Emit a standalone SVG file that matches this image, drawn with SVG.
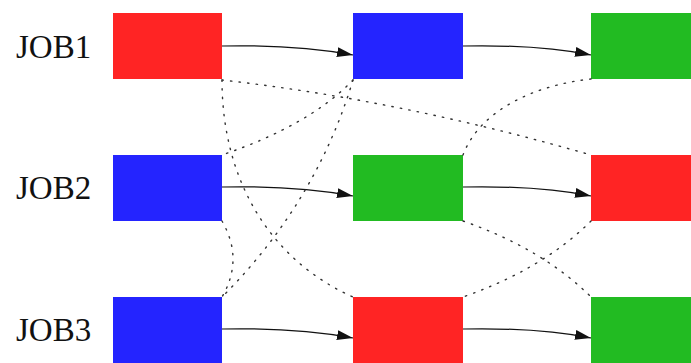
<svg xmlns="http://www.w3.org/2000/svg" width="691" height="363" viewBox="0 0 691 363">
<defs>
<style>
.lbl{font-family:"Liberation Serif","Times New Roman",serif;font-size:33px;fill:#111}
.red{fill:#ff2424}
.blue{fill:#2424ff}
.green{fill:#22bb22}
.arrow{fill:none;stroke:#111;stroke-width:1.2;marker-end:url(#ah)}
.dep{fill:none;stroke:#333;stroke-width:1.4;stroke-dasharray:1.4 7.2;stroke-linecap:round}
</style>
<marker id="ah" markerUnits="userSpaceOnUse" viewBox="0 0 16 10" refX="16" refY="5" markerWidth="16" markerHeight="10" orient="auto">
<path d="M0,0 L16,5 L0,10 z" fill="#111"/>
</marker>
</defs>
<rect width="691" height="363" fill="#fff"/>
<g id="labels">
<text class="lbl" x="16" y="57.5">JOB1</text>
<text class="lbl" x="16" y="199">JOB2</text>
<text class="lbl" x="16" y="340.5">JOB3</text>
</g>
<g id="job1-op1"><rect class="red" x="113" y="13" width="109" height="66"/></g>
<g id="job1-op2"><rect class="blue" x="353" y="13" width="110" height="66"/></g>
<g id="job1-op3"><rect class="green" x="591" y="13" width="110" height="66"/></g>
<g id="job2-op1"><rect class="blue" x="113" y="155" width="109" height="66"/></g>
<g id="job2-op2"><rect class="green" x="353" y="155" width="110" height="66"/></g>
<g id="job2-op3"><rect class="red" x="591" y="155" width="110" height="66"/></g>
<g id="job3-op1"><rect class="blue" x="113" y="297" width="109" height="66"/></g>
<g id="job3-op2"><rect class="red" x="353" y="297" width="110" height="66"/></g>
<g id="job3-op3"><rect class="green" x="591" y="297" width="110" height="66"/></g>
<g id="connectors">
<path class="arrow" d="M222,46 C270,45 310,47 353,55"/>
<path class="arrow" d="M463,46 C511,45 551,47 591,55"/>
<path class="arrow" d="M222,187 C270,186 310,188 353,196"/>
<path class="arrow" d="M463,187 C511,186 551,188 591,196"/>
<path class="arrow" d="M222,329 C270,328 310,330 353,338"/>
<path class="arrow" d="M463,329 C511,328 551,330 591,338"/>
<path class="dep" d="M222,80 Q400,100 591,155"/>
<path class="dep" d="M222,80 C222,180 270,260 353,297"/>
<path class="dep" d="M591,221 Q543,269 463,297"/>
<path class="dep" d="M353,80 Q310,125 222,155"/>
<path class="dep" d="M353,80 Q316,203 222,297"/>
<path class="dep" d="M222,221 Q244,259 222,297"/>
<path class="dep" d="M591,79 C535,85 480,110 463,155"/>
<path class="dep" d="M463,221 Q543,249 591,297"/>
</g>
</svg>
